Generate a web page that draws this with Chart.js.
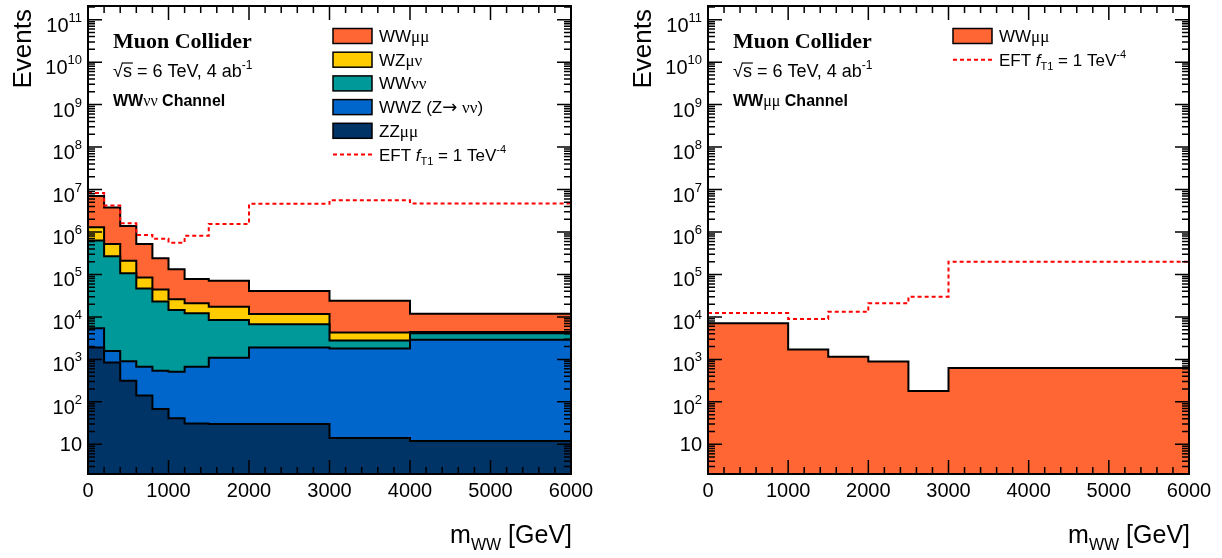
<!DOCTYPE html>
<html>
<head>
<meta charset="utf-8">
<script src="https://cdn.jsdelivr.net/npm/chart.js@4"></script>
<style>
  html, body { margin: 0; padding: 0; background: #fff; }
  .wrap { position: relative; width: 1222px; height: 558px; }
  .pane { position: absolute; top: 0; width: 611px; height: 558px; }
</style>
</head>
<body>
<div class="wrap">
  <div class="pane" style="left:0"><canvas id="vvChart"></canvas></div>
  <div class="pane" style="left:611px"><canvas id="mumuChart"></canvas></div>
</div>
<script>
// tick labels
const massTicks = [0, 1000, 2000, 3000, 4000, 5000, 6000];
const eventDecades = [1, 2, 3, 4, 5, 6, 7, 8, 9, 10, 11];

// WWvv channel (stacked backgrounds, per-process events per bin)
const vvEdges   = [0, 200, 400, 600, 800, 1000, 1200, 1500, 2000, 3000, 4000, 6000];
const vvZZmumu  = [1900, 850, 315, 142, 68, 41, 31, 30, 30, 14, 12];
const vvWWZ     = [3500, 730, 595, 528, 472, 474, 640, 1070, 1870, 1790, 2890];
const vvWWvv    = [625000, 268000, 106000, 46300, 22500, 14000, 11600, 7400, 4800, 1000, 1200];
const vvWZmuv   = [660000, 250000, 103000, 38000, 21500, 11500, 8700, 8900, 5100, 1500, 300];
const vvWWmumu  = [5800000, 3280000, 1170000, 435000, 196000, 106000, 57000, 53600, 29200, 19700, 7400];
const vvEFT     = [8300000, 4200000, 1600000, 850000, 690000, 560000, 820000, 1550000, 4600000, 5600000, 4700000];

// WWmumu channel
const mumuEdges  = [0, 1000, 1500, 2000, 2500, 3000, 6000];
const mumuWWmumu = [7100, 1700, 1150, 890, 180, 630];
const mumuEFT    = [12300, 8900, 13200, 21000, 30000, 200000];

const SANS = '"Liberation Sans", Arial, Helvetica, sans-serif';
const SERIF = '"Liberation Serif", "Times New Roman", serif';

const colWWmumu = '#ff6633';
const colWZmuv = '#ffcc00';
const colWWvv = '#009999';
const colWWZ = '#0066cc';
const colZZmumu = '#003366';

// histogram -> step points (last value repeated at the upper edge)
function histPoints(edges, values) {
  const pts = values.map((v, i) => ({ x: edges[i], y: v }));
  pts.push({ x: edges[edges.length - 1], y: values[values.length - 1] });
  return pts;
}

function histLayer(label, edges, values, color, fill) {
  return {
    label: label,
    data: histPoints(edges, values),
    backgroundColor: color,
    borderColor: '#000',
    borderWidth: 2,
    fill: fill,
    stepped: true,
    pointRadius: 0,
    stack: 'bkg'
  };
}

function eftLine(edges, values) {
  return {
    label: 'EFT',
    data: histPoints(edges, values),
    borderColor: '#ff0000',
    borderWidth: 2,
    borderDash: [4, 3],
    fill: false,
    stepped: true,
    pointRadius: 0,
    stack: 'eft'
  };
}

// rich text: list of runs {t, font, dy, over}
function runsWidth(ctx, runs) {
  let w = 0;
  for (const r of runs) { ctx.font = r.font; w += ctx.measureText(r.t).width; }
  return w;
}
function drawRuns(ctx, x, y, runs) {
  for (const r of runs) {
    ctx.font = r.font;
    ctx.fillText(r.t, x, y + (r.dy || 0));
    const w = ctx.measureText(r.t).width;
    if (r.over) {
      ctx.beginPath();
      ctx.lineWidth = 1.2;
      ctx.moveTo(x - 1, y - r.over);
      ctx.lineTo(x + w + 1, y - r.over);
      ctx.stroke();
    }
    x += w;
  }
  return x;
}

const f = (size, style) => (style ? style + ' ' : '') + size + 'px ' + SANS;
const g = (size) => size + 'px ' + SERIF;

function headerRuns(channel) {
  return {
    title: [{ t: 'Muon Collider', font: 'bold 22px ' + SERIF }],
    energy: [
      { t: '√', font: f(18) }, { t: 's', font: f(18), over: 14 },
      { t: ' = 6 TeV, 4 ab', font: f(18) }, { t: '-1', font: f(12), dy: -8 }
    ],
    channel: channel
  };
}

const eftRuns = [
  { t: 'EFT ', font: f(17) }, { t: 'f', font: f(17, 'italic') },
  { t: 'T1', font: f(11), dy: 4 }, { t: ' = 1 TeV', font: f(17) },
  { t: '-4', font: f(11), dy: -8 }
];

const rootAxes = {
  id: 'rootAxes',
  afterDraw(chart, args, opts) {
    const ctx = chart.ctx;
    const { left, right, top, bottom } = chart.chartArea;
    const xs = chart.scales.x, ys = chart.scales.y;
    ctx.save();
    ctx.fillStyle = '#000';
    ctx.strokeStyle = '#000';

    // ticks on all four sides
    ctx.lineWidth = 1.5;
    ctx.beginPath();
    for (let v = xs.min; v <= xs.max; v += 200) {
      const px = xs.getPixelForValue(v);
      const len = v % 1000 === 0 ? 14 : 7;
      ctx.moveTo(px, bottom); ctx.lineTo(px, bottom - len);
      ctx.moveTo(px, top); ctx.lineTo(px, top + len);
    }
    for (let e = 0; e <= 11; e++) {
      for (let k = 1; k <= 9; k++) {
        const v = k * Math.pow(10, e);
        if (v < ys.min || v > ys.max) continue;
        const py = ys.getPixelForValue(v);
        const len = k === 1 ? 14 : 7;
        ctx.moveTo(left, py); ctx.lineTo(left + len, py);
        ctx.moveTo(right, py); ctx.lineTo(right - len, py);
      }
    }
    ctx.stroke();

    // frame
    ctx.lineWidth = 2;
    ctx.strokeRect(left, top, right - left, bottom - top);

    // x tick labels
    ctx.textBaseline = 'alphabetic';
    ctx.textAlign = 'center';
    ctx.font = f(20);
    for (const v of massTicks) {
      ctx.fillText(String(v), xs.getPixelForValue(v), bottom + 23);
    }

    // y tick labels with exponents
    ctx.textAlign = 'left';
    for (const e of eventDecades) {
      const py = ys.getPixelForValue(Math.pow(10, e));
      if (e === 1) {
        const runs = [{ t: '10', font: f(20) }];
        drawRuns(ctx, left - 6 - runsWidth(ctx, runs), py + 7, runs);
      } else {
        const runs = [{ t: '10', font: f(20) }, { t: String(e), font: f(13), dy: -10 }];
        drawRuns(ctx, left - 6 - runsWidth(ctx, runs), py + 12, runs);
      }
    }

    // axis titles
    const xTitle = [{ t: 'm', font: f(25) }, { t: 'WW', font: f(16), dy: 7 }, { t: ' [GeV]', font: f(25) }];
    drawRuns(ctx, right + 1 - runsWidth(ctx, xTitle), 543, xTitle);

    ctx.save();
    ctx.translate(left - 57, 9);
    ctx.rotate(-Math.PI / 2);
    ctx.font = f(26);
    ctx.textAlign = 'right';
    ctx.fillText('Events', 0, 0);
    ctx.restore();
    ctx.textAlign = 'left';

    // header text
    const h = opts.header;
    drawRuns(ctx, left + 25, 48, h.title);
    drawRuns(ctx, left + 25, 77, h.energy);
    drawRuns(ctx, left + 25, 106, h.channel);

    // legend
    opts.legend.forEach((item, i) => {
      const cy = 36 + 23.7 * i;
      const bx = left + 245;
      const ds = chart.data.datasets[item.ds];
      if (item.line) {
        ctx.save();
        ctx.strokeStyle = ds.borderColor;
        ctx.lineWidth = 2;
        ctx.setLineDash(ds.borderDash);
        ctx.beginPath();
        ctx.moveTo(bx, cy); ctx.lineTo(bx + 39, cy);
        ctx.stroke();
        ctx.restore();
      } else {
        ctx.fillStyle = ds.backgroundColor;
        ctx.fillRect(bx, cy - 7.5, 39, 15);
        ctx.lineWidth = 1.5;
        ctx.strokeStyle = '#000';
        ctx.strokeRect(bx, cy - 7.5, 39, 15);
        ctx.fillStyle = '#000';
      }
      drawRuns(ctx, left + 291, cy + 6, item.runs);
    });
    ctx.restore();
  }
};

function baseOptions(padLeft, padRight, header, legend) {
  return {
    responsive: true,
    maintainAspectRatio: false,
    animation: false,
    layout: { padding: { left: padLeft, right: padRight, top: 6, bottom: 84 } },
    scales: {
      x: { type: 'linear', min: 0, max: 6000, display: false },
      y: { type: 'logarithmic', min: 2, max: 2.1e11, stacked: true, display: false }
    },
    plugins: {
      legend: { display: false },
      tooltip: { enabled: false },
      rootAxes: { header: header, legend: legend }
    }
  };
}

// WWvv channel chart
new Chart(document.getElementById('vvChart'), {
  type: 'line',
  data: {
    datasets: [
      eftLine(vvEdges, vvEFT),
      histLayer('ZZμμ', vvEdges, vvZZmumu, colZZmumu, 'start'),
      histLayer('WWZ (Z→ νν)', vvEdges, vvWWZ, colWWZ, '-1'),
      histLayer('WWνν', vvEdges, vvWWvv, colWWvv, '-1'),
      histLayer('WZμν', vvEdges, vvWZmuv, colWZmuv, '-1'),
      histLayer('WWμμ', vvEdges, vvWWmumu, colWWmumu, '-1')
    ]
  },
  options: baseOptions(88, 40,
    headerRuns([{ t: 'WW', font: f(16, 'bold') }, { t: 'νν', font: g(16) }, { t: ' Channel', font: f(16, 'bold') }]),
    [
      { ds: 5, runs: [{ t: 'WW', font: f(17) }, { t: 'μμ', font: g(17) }] },
      { ds: 4, runs: [{ t: 'WZ', font: f(17) }, { t: 'μν', font: g(17) }] },
      { ds: 3, runs: [{ t: 'WW', font: f(17) }, { t: 'νν', font: g(17) }] },
      { ds: 2, runs: [{ t: 'WWZ (Z', font: f(17) }, { t: '→', font: '18px "DejaVu Sans", sans-serif' },
                      { t: ' ', font: f(17) }, { t: 'νν', font: g(17) }, { t: ')', font: f(17) }] },
      { ds: 1, runs: [{ t: 'ZZ', font: f(17) }, { t: 'μμ', font: g(17) }] },
      { ds: 0, line: true, runs: eftRuns }
    ]),
  plugins: [rootAxes]
});

// WWmumu channel chart
new Chart(document.getElementById('mumuChart'), {
  type: 'line',
  data: {
    datasets: [
      eftLine(mumuEdges, mumuEFT),
      histLayer('WWμμ', mumuEdges, mumuWWmumu, colWWmumu, 'start')
    ]
  },
  options: baseOptions(97, 33,
    headerRuns([{ t: 'WW', font: f(16, 'bold') }, { t: 'μμ', font: g(16) }, { t: ' Channel', font: f(16, 'bold') }]),
    [
      { ds: 1, runs: [{ t: 'WW', font: f(17) }, { t: 'μμ', font: g(17) }] },
      { ds: 0, line: true, runs: eftRuns }
    ]),
  plugins: [rootAxes]
});
</script>
</body>
</html>
